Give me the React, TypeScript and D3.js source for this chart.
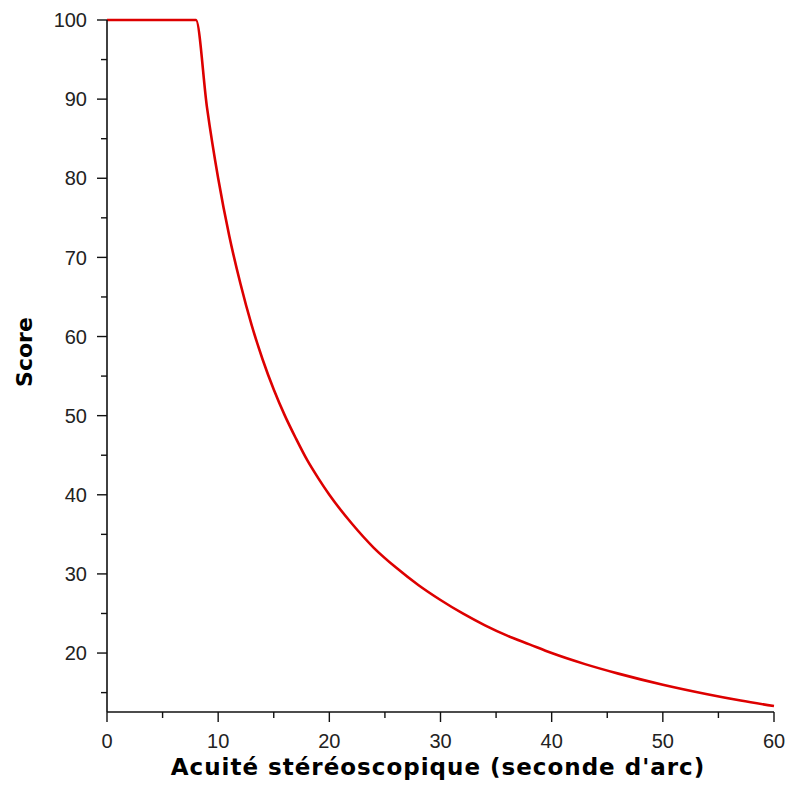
import * as d3 from 'd3'

// Values
const acuity = [0, 8, 9, 10, 11, 12, 13, 14, 15, 16, 17, 18, 19, 20, 22, 24, 26, 28, 30, 32, 34, 36, 38, 40, 43, 46, 50, 54, 57, 60]
const score = [100, 100, 88.9, 80, 72.7, 66.7, 61.5, 57.1, 53.3, 50, 47.1, 44.4, 42.1, 40, 36.4, 33.3, 30.8, 28.6, 26.7, 25, 23.5, 22.2, 21.1, 20, 18.6, 17.4, 16, 14.8, 14, 13.3]

const xMajor = [0, 10, 20, 30, 40, 50, 60]
const xMinor = [5, 15, 25, 35, 45, 55]
const yMajor = [20, 30, 40, 50, 60, 70, 80, 90, 100]
const yMinor = [15, 25, 35, 45, 55, 65, 75, 85, 95]

const xTitle = "Acuité stéréoscopique (seconde d'arc)"
const yTitle = 'Score'

const width = 787
const height = 790
const margin = { top: 20, right: 13, bottom: 78, left: 107 }

export default function App() {
  const x = d3.scaleLinear()
    .domain([0, 60])
    .range([margin.left, width - margin.right])

  const y = d3.scaleLinear()
    .domain([12.55, 100])
    .range([height - margin.bottom, margin.top])

  const points = acuity.map((a, i) => [a, score[i]] as [number, number])

  const line = d3.line<[number, number]>()
    .x(d => x(d[0]))
    .y(d => y(d[1]))
    .curve(d3.curveMonotoneX)

  const axisY = height - margin.bottom
  const labelFont = '"Liberation Sans", Arial, sans-serif'
  const titleFont = '"DejaVu Sans", Verdana, sans-serif'

  return (
    <div style={{ position: 'absolute', left: 0, top: 0 }}>
      <svg width={width} height={height} style={{ display: 'block', background: '#fff' }}>
        {/* curve */}
        <path d={line(points) || ''} fill="none" stroke="#dd0000" strokeWidth={2.6} strokeLinejoin="round" />

        {/* x axis */}
        <line x1={x(0)} x2={x(60)} y1={axisY} y2={axisY} stroke="#111" strokeWidth={1.6} />
        {xMajor.map(t => (
          <g key={'xM' + t}>
            <line x1={x(t)} x2={x(t)} y1={axisY} y2={axisY + 10} stroke="#111" strokeWidth={1.4} />
            <text x={x(t)} y={axisY + 36} textAnchor="middle" fontFamily={labelFont} fontSize={20} fill="#222">{t}</text>
          </g>
        ))}
        {xMinor.map(t => (
          <line key={'xm' + t} x1={x(t)} x2={x(t)} y1={axisY} y2={axisY + 6} stroke="#111" strokeWidth={1.4} />
        ))}

        {/* y axis */}
        <line x1={margin.left} x2={margin.left} y1={y(100)} y2={axisY} stroke="#111" strokeWidth={1.6} />
        {yMajor.map(t => (
          <g key={'yM' + t}>
            <line x1={margin.left - 10} x2={margin.left} y1={y(t)} y2={y(t)} stroke="#111" strokeWidth={1.4} />
            <text x={margin.left - 20} y={y(t)} dy="0.36em" textAnchor="end" fontFamily={labelFont} fontSize={20} fill="#222">{t}</text>
          </g>
        ))}
        {yMinor.map(t => (
          <line key={'ym' + t} x1={margin.left - 6} x2={margin.left} y1={y(t)} y2={y(t)} stroke="#111" strokeWidth={1.4} />
        ))}

        {/* titles */}
        <text x={(168 + 708) / 2} y={775} textAnchor="middle" fontFamily={titleFont} fontWeight="bold" fontSize={23} letterSpacing={1} fill="#000">{xTitle}</text>
        <text transform="translate(32,352) rotate(-90)" textAnchor="middle" fontFamily={titleFont} fontWeight="bold" fontSize={22} fill="#000">{yTitle}</text>
      </svg>
    </div>
  )
}
